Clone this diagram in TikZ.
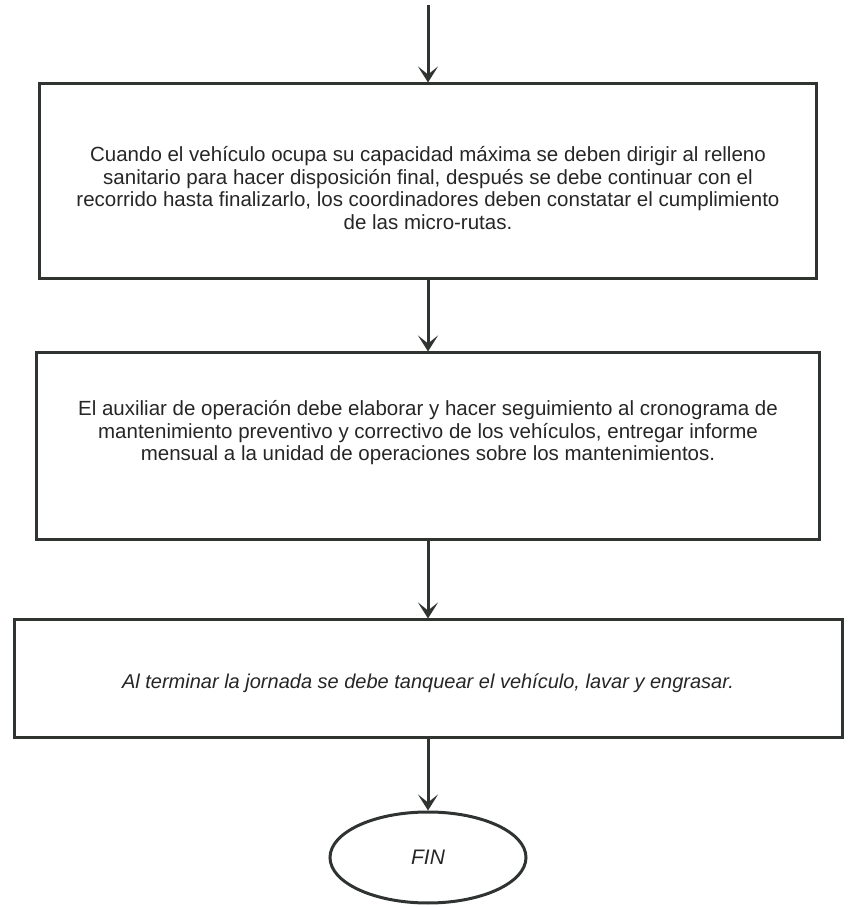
\documentclass[tikz,border=0pt]{standalone}
\usepackage{fontspec}
\setmainfont{Liberation Sans}
\usetikzlibrary{arrows.meta,positioning,shapes.geometric}
\definecolor{Ink}{HTML}{2F3431}

\begin{document}
\begin{tikzpicture}[x=1pt,y=1pt,
    box/.style={draw=Ink,line width=3pt,align=center,inner sep=0pt,
      font=\fontsize{20.5}{22.5}\selectfont,text=black!85},
    fin/.style={ellipse,draw=Ink,line width=3pt,minimum width=196pt,
      minimum height=91pt,inner sep=0pt,font=\fontsize{21}{24}\selectfont\itshape,
      text=black!85},
    arr/.style={-{Stealth[length=16pt,width=20pt,inset=8pt]},line width=3pt,color=Ink}
  ]
    \useasboundingbox (0,0) rectangle (849,907);
    \coordinate (inicio) at (428,902);
    \node[box,minimum width=777pt,minimum height=195pt,text height=96pt] (relleno) at (428,725.5)
      {Cuando el vehículo ocupa su capacidad máxima se deben dirigir al relleno\\
       sanitario para hacer disposición final, después se debe continuar con el\\
       recorrido hasta finalizarlo, los coordinadores deben constatar el cumplimiento\\
       de las micro-rutas.};
    \node[box,minimum width=783pt,minimum height=187pt,text depth=32pt,
      below=71pt of relleno] (mantenimiento)
      {El auxiliar de operación debe elaborar y hacer seguimiento al cronograma de\\
       mantenimiento preventivo y correctivo de los vehículos, entregar informe\\
       mensual a la unidad de operaciones sobre los mantenimientos.};
    \node[box,minimum width=828pt,minimum height=118pt,text height=24pt,
      font=\fontsize{20}{22}\selectfont\itshape,below=77pt of mantenimiento] (jornada)
      {Al terminar la jornada se debe tanquear el vehículo, lavar y engrasar.};
    \node[fin,below=71pt of jornada] (fin) {FIN};
    \draw[arr] (inicio)--(relleno);
    \draw[arr] (relleno)--(mantenimiento);
    \draw[arr] (mantenimiento)--(jornada);
    \draw[arr] (jornada)--(fin);
  \end{tikzpicture}
\end{document}
